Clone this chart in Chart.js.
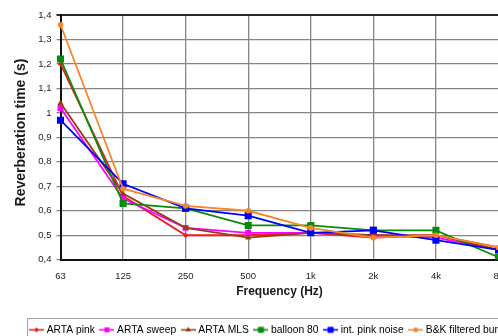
<!DOCTYPE html>
<html>
<head>
<meta charset="utf-8">
<script src="https://cdn.jsdelivr.net/npm/chart.js@4/dist/chart.umd.min.js"></script>
<style>
  html, body { margin: 0; padding: 0; background: #ffffff; overflow: hidden; }
  #wrap { position: absolute; left: 0; top: 0; width: 600px; height: 345px; }
</style>
</head>
<body>
<div id="wrap"><canvas id="c" width="600" height="345"></canvas></div>
<script>
// ---- data ----
const frequencies = ['63', '125', '250', '500', '1k', '2k', '4k', '8k'];
const artaPink     = [1.20, 0.66, 0.50, 0.50, 0.51, 0.49, 0.50, 0.45];
const artaSweep    = [1.02, 0.65, 0.53, 0.51, 0.51, 0.50, 0.49, 0.44];
const artaMLS      = [1.04, 0.67, 0.53, 0.49, 0.51, 0.50, 0.50, 0.44];
const balloon80    = [1.22, 0.63, 0.61, 0.54, 0.54, 0.52, 0.52, 0.41];
const intPinkNoise = [0.97, 0.71, 0.61, 0.58, 0.51, 0.52, 0.48, 0.44];
const bkBurst      = [1.36, 0.69, 0.62, 0.60, 0.53, 0.49, 0.50, 0.45];
const seriesNames  = ['ARTA pink', 'ARTA sweep', 'ARTA MLS', 'balloon 80', 'int. pink noise', 'B&K filtered burst'];
const yTitle = 'Reverberation time (s)';
const xTitle = 'Frequency (Hz)';

// ---- styles ----
const FONT = '"Liberation Sans", Arial, sans-serif';
const styles = [
  { color: '#ec1c24', point: 'rectRot',  r: 2.8 },
  { color: '#ff00ff', point: 'rect',     r: 4.2 },
  { color: '#9a3b12', point: 'triangle', r: 3.6 },
  { color: '#0a8a0a', point: 'rect',     r: 5.0 },
  { color: '#0000ff', point: 'rect',     r: 5.0 },
  { color: '#f7862a', point: 'circle',   r: 2.8 }
];
const seriesData = [artaPink, artaSweep, artaMLS, balloon80, intPinkNoise, bkBurst];

function makeIcon(st) {
  const c = document.createElement('canvas');
  c.width = 15; c.height = 9;
  const g = c.getContext('2d');
  g.strokeStyle = st.color; g.lineWidth = 1.6;
  g.beginPath(); g.moveTo(0, 4.5); g.lineTo(15, 4.5); g.stroke();
  g.fillStyle = st.color;
  Chart.helpers.drawPoint(g, { pointStyle: st.point, radius: st.r * 0.8, rotation: 0, borderWidth: 0 }, 7.5, 4.5);
  g.fill();
  return c;
}

const datasets = seriesData.map((d, i) => ({
  label: seriesNames[i],
  data: d,
  borderColor: styles[i].color,
  backgroundColor: styles[i].color,
  pointStyle: styles[i].point,
  pointRadius: styles[i].r,
  pointBorderWidth: 0,
  pointHoverRadius: styles[i].r,
  borderWidth: 1.8,
  tension: 0,
  fill: false,
  yAxisID: 'y',
  order: seriesData.length - i
}));

const layoutPlugin = {
  id: 'extras',
  afterLayout(chart) {
    if (chart.legend) { chart.legend.left = 24.5; }
  },
  afterDraw(chart) {
    const ctx = chart.ctx;
    ctx.save();
    // legend frame
    ctx.strokeStyle = '#a0a0a0';
    ctx.lineWidth = 1;
    ctx.strokeRect(27.5, 318.5, 490, 30);
    // y axis title
    ctx.translate(20.7, 132.5);
    ctx.rotate(-Math.PI / 2);
    ctx.font = 'bold 14px ' + FONT;
    ctx.fillStyle = '#1a1a1a';
    ctx.textAlign = 'center';
    ctx.textBaseline = 'middle';
    ctx.fillText(yTitle, 0, 0);
    ctx.restore();
  }
};

const icons = styles.map(makeIcon);

new Chart(document.getElementById('c'), {
  type: 'line',
  data: { labels: frequencies, datasets: datasets },
  plugins: [layoutPlugin],
  options: {
    responsive: false,
    animation: false,
    layout: { padding: { left: 0, top: 15, right: 0, bottom: 0 } },
    scales: {
      x: {
        type: 'category',
        offset: false,
        grid: { color: '#858585', lineWidth: 1.3, drawTicks: false },
        border: { display: true, color: '#111111', width: 2 },
        ticks: { padding: 11, color: '#222222', font: { family: FONT, size: 9.5 }, maxRotation: 0, autoSkip: false },
        title: { display: true, text: xTitle, color: '#1a1a1a', font: { family: FONT, size: 12, weight: 'bold' }, padding: { top: 0, bottom: 19 } },
        afterFit(scale) { scale.height = 58; }
      },
      y: {
        min: 0.4,
        max: 1.4,
        grid: {
          color: (c) => (c.tick && Math.abs(c.tick.value - 1.4) < 1e-6) ? '#2a2a2a' : '#858585',
          lineWidth: (c) => (c.tick && Math.abs(c.tick.value - 1.4) < 1e-6) ? 2 : 1.3,
          drawTicks: true,
          tickLength: 4
        },
        border: { display: true, color: '#111111', width: 2 },
        ticks: {
          stepSize: 0.1,
          padding: 5,
          color: '#222222',
          font: { family: FONT, size: 9.5 },
          callback: (v) => String(Number(Number(v).toFixed(1))).replace('.', ',')
        },
        title: { display: false },
        afterFit(scale) { scale.width = 60.5; }
      },
      yRightSpace: {
        type: 'linear',
        position: 'right',
        display: true,
        min: 0.4,
        max: 1.4,
        grid: { display: false, drawTicks: false },
        border: { display: false },
        ticks: { display: false },
        title: { display: false },
        afterFit(scale) { scale.width = 101.5; }
      }
    },
    plugins: {
      legend: {
        display: true,
        position: 'bottom',
        align: 'start',
        labels: {
          usePointStyle: true,
          pointStyleWidth: 10,
          boxHeight: 10,
          padding: 7,
          color: '#000000',
          font: { family: FONT, size: 10.3 },
          generateLabels: (chart) => chart.data.datasets.map((ds, i) => ({
            text: ds.label,
            pointStyle: icons[i],
            fillStyle: 'transparent',
            strokeStyle: 'transparent',
            lineWidth: 0,
            hidden: false,
            datasetIndex: i,
            fontColor: '#000000'
          }))
        }
      },
      tooltip: { enabled: false }
    }
  }
});
</script>
</body>
</html>
